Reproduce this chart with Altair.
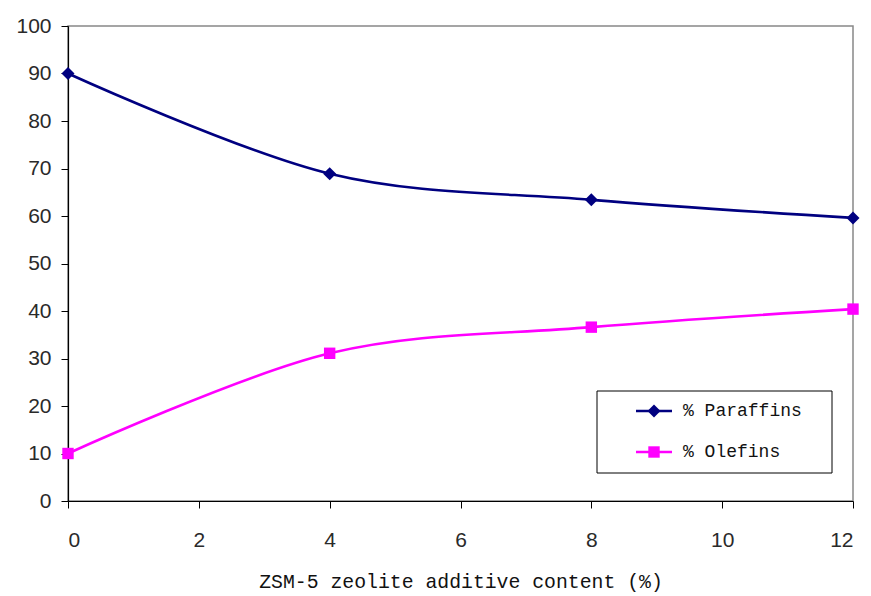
import altair as alt
import pandas as pd

# ZSM-5 additive content (%) and product composition
additive = [0, 4, 8, 12]
paraffins = [90.0, 68.9, 63.4, 59.6]
olefins = [10.0, 31.1, 36.6, 40.4]
series_names = ["% Paraffins", "% Olefins"]
series_colors = ["#000080", "#FF00FF"]
series_shapes = ["diamond", "square"]
series_sizes = [170, 130]

rows = []
for x, p, o in zip(additive, paraffins, olefins):
    rows.append({"additive": x, "value": p, "series": series_names[0]})
    rows.append({"additive": x, "value": o, "series": series_names[1]})
df = pd.DataFrame(rows)

W, H = 785, 475

x_enc = alt.X(
    "additive:Q",
    scale=alt.Scale(domain=[0, 12], nice=False),
    axis=alt.Axis(
        values=[0, 2, 4, 6, 8, 10, 12],
        format="d",
        title="ZSM-5 zeolite additive content (%)",
        titleFont="Liberation Mono",
        titleFontSize=19.8,
        titleFontWeight="normal",
        titleColor="#111111",
        titlePadding=21,
        labelPadding=21,
    ),
)
y_enc = alt.Y(
    "value:Q",
    scale=alt.Scale(domain=[0, 100], nice=False),
    axis=alt.Axis(values=list(range(0, 101, 10)), title=None, labelPadding=10),
)
color_enc = alt.Color(
    "series:N",
    scale=alt.Scale(domain=series_names, range=series_colors),
    legend=None,
)

base = alt.Chart(df)

lines = base.mark_line(interpolate="cardinal", strokeWidth=2.6).encode(
    x=x_enc, y=y_enc, color=color_enc, detail="series:N"
)

points = base.mark_point(filled=True, opacity=1).encode(
    x=x_enc,
    y=y_enc,
    color=color_enc,
    shape=alt.Shape(
        "series:N",
        scale=alt.Scale(domain=series_names, range=series_shapes),
        legend=None,
    ),
    size=alt.Size(
        "series:N",
        scale=alt.Scale(domain=series_names, range=series_sizes),
        legend=None,
    ),
)

# legend: framed box in the lower right of the plot area
legend_df = pd.DataFrame({"series": series_names})
legend_base = alt.Chart(legend_df)

layers = [
    legend_base.mark_rect(fill="white", stroke="black", strokeWidth=1)
    .encode(x=alt.value(529), x2=alt.value(764), y=alt.value(365), y2=alt.value(447))
    .transform_filter(alt.datum.series == series_names[0])
]
row_y0, row_step = 385, 41
for i, name in enumerate(series_names):
    row = legend_base.transform_filter(alt.datum.series == name)
    yy = row_y0 + row_step * i
    layers.append(
        row.mark_rule(color=series_colors[i], strokeWidth=2.6).encode(
            x=alt.value(568), x2=alt.value(604), y=alt.value(yy)
        )
    )
    layers.append(
        row.mark_point(
            filled=True,
            opacity=1,
            shape=series_shapes[i],
            size=series_sizes[i],
            color=series_colors[i],
        ).encode(x=alt.value(586), y=alt.value(yy))
    )
    layers.append(
        row.mark_text(
            align="left",
            baseline="middle",
            font="Liberation Mono",
            fontSize=18,
            color="#111111",
        ).encode(x=alt.value(615), y=alt.value(yy), text="series:N")
    )

chart = (
    alt.layer(lines, points, *layers)
    .properties(
        width=W,
        height=H,
        autosize="none",
        padding={"left": 68, "top": 26, "right": 18, "bottom": 95},
        background="white",
    )
    .configure_view(stroke="#888888", strokeWidth=1.5)
    .configure_axis(
        grid=False,
        domainColor="black",
        domainWidth=1.2,
        tickColor="black",
        tickSize=7,
        tickWidth=1,
        labelFont="Liberation Sans",
        labelFontSize=21,
        labelColor="#2a2a2a",
    )
)

chart.save("out.html", embed_options={"renderer": "svg", "actions": False})
